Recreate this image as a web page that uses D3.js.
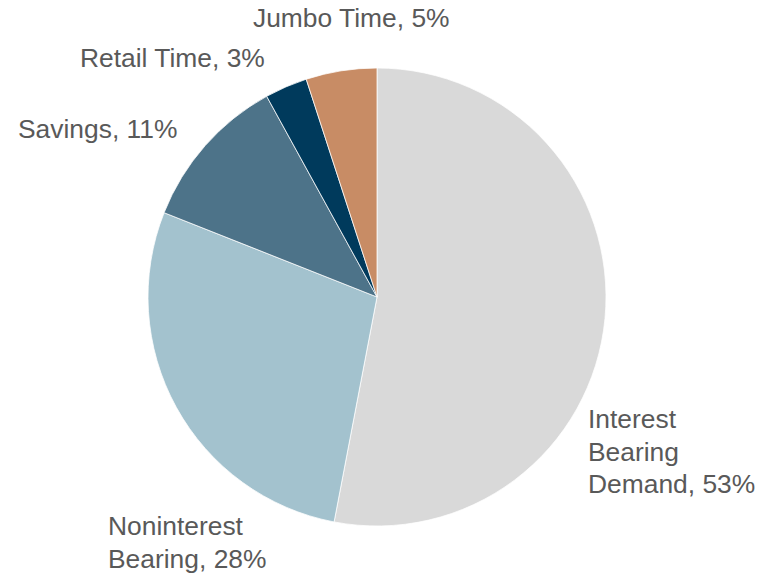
<!DOCTYPE html>
<html>
<head>
<meta charset="utf-8">
<script src="https://cdn.jsdelivr.net/npm/d3@7/dist/d3.min.js"></script>
<style>
  html, body { margin: 0; padding: 0; background: #ffffff; }
  svg { display: block; }
  text { font-family: "Liberation Sans", Arial, sans-serif; fill: #595959; }
</style>
</head>
<body>
<svg id="chart" width="764" height="574"></svg>
<script>
// Deposit mix, clockwise from 12 o'clock
const categories = ["Interest Bearing Demand", "Noninterest Bearing", "Savings", "Retail Time", "Jumbo Time"];
const shares = [53, 28, 11, 3, 5];
const colors = ["#d9d9d9", "#a3c2ce", "#4d7389", "#003a5c", "#c88c65"];
// Label text lines per slice
const labelLines = [
  ["Interest", "Bearing", "Demand, 53%"],
  ["Noninterest", "Bearing, 28%"],
  ["Savings, 11%"],
  ["Retail Time, 3%"],
  ["Jumbo Time, 5%"]
];
// Label anchor (left x, first baseline) per slice
const labelPos = [[588, 428], [108, 535], [18, 138], [80, 67], [253, 27]];

const svg = d3.select("#chart");
const cx = 377, cy = 297, radius = 229;

const pie = d3.pie().sort(null).value(d => d.value);
const arc = d3.arc().innerRadius(0).outerRadius(radius);
const data = categories.map((c, i) => ({ name: c, value: shares[i] }));
const arcs = pie(data);

const g = svg.append("g").attr("transform", `translate(${cx},${cy})`);
g.selectAll("path")
  .data(arcs)
  .join("path")
  .attr("d", arc)
  .attr("fill", (d, i) => colors[i])
  .attr("stroke", "#ffffff")
  .attr("stroke-width", 0.75);

const lineH = 32.5;
svg.selectAll("text.label")
  .data(arcs)
  .join("text")
  .attr("class", "label")
  .attr("font-size", 26.4)
  .each(function(d, i) {
    const t = d3.select(this);
    labelLines[i].forEach((ln, j) => {
      t.append("tspan")
        .attr("x", labelPos[i][0])
        .attr("y", labelPos[i][1] + j * lineH)
        .text(ln);
    });
  });
</script>
</body>
</html>
